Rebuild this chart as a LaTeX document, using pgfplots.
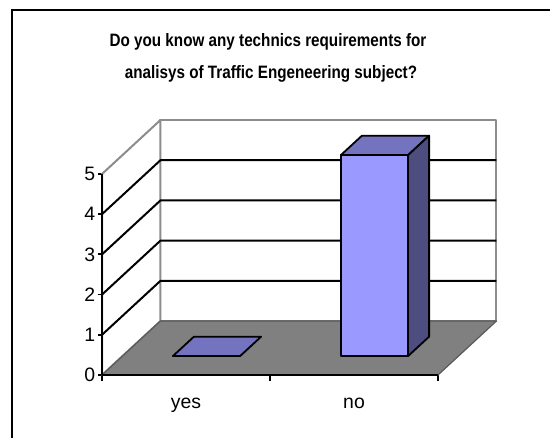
\documentclass[border=0pt]{standalone}
\usepackage{fontspec}
\setmainfont{Liberation Sans}
\newfontfamily\titlefont[FakeStretch=0.85]{Liberation Sans}
\usepackage{pgfplots}
\pgfplotsset{compat=1.18}
\definecolor{floorgray}{HTML}{808080}
\definecolor{wallgray}{HTML}{8C8C8C}
\definecolor{barfront}{HTML}{9999FF}
\definecolor{bartop}{HTML}{7373C0}
\definecolor{barside}{HTML}{4D4D80}

\begin{document}
\begin{tikzpicture}[x=1bp,y=1bp]
\useasboundingbox (0,0) rectangle (550,438);
\draw[line width=2.5bp] (12,-20) rectangle (570,428);
\node[font=\titlefont\bfseries\fontsize{18}{21}\selectfont, anchor=base] at (268,391) {Do you know any technics requirements for};
\node[font=\titlefont\bfseries\fontsize{18}{21}\selectfont, anchor=base] at (271,359) {analisys of Traffic Engeneering subject?};
\begin{axis}[
  at={(102bp,63bp)}, anchor=south west, scale only axis,
  x=168bp, y=40.2bp,
  xmin=-0.5, xmax=1.848, ymin=0, ymax=6.343,
  clip=false,
  axis x line*=bottom, axis y line*=left,
  x axis line style={draw=none}, y axis line style={draw=none},
  ytick={0,1,2,3,4,5},
  xtick={0,1}, xticklabels={yes,no},
  minor xtick={-0.5,0.5,1.5},
  tick align=outside,
  major tick length=4bp,
  minor tick length=6bp,
  major x tick style={draw=none},
  minor x tick style={black, line width=1.8bp},
  major y tick style={black, line width=1.8bp},
  /pgf/number format/assume math mode=true,
  ticklabel style={font=\fontsize{19.5}{22}\selectfont},
  yticklabel style={inner sep=2.5bp},
  xticklabel style={anchor=base, yshift=-30bp},
  no marks,
  line join=round,
]
% back wall
\addplot[fill=white, draw=wallgray, line width=2bp] coordinates {(-0.152,1.343) (1.848,1.343) (1.848,6.343) (-0.152,6.343)} -- cycle;
% left wall
\addplot[fill=white, draw=wallgray, line width=2bp] coordinates {(-0.5,0) (-0.152,1.343) (-0.152,6.343) (-0.5,5)} -- cycle;
% floor
\addplot[fill=floorgray, draw=black!65, line width=1.2bp] coordinates {(-0.5,0) (1.5,0) (1.848,1.343) (-0.152,1.343)} -- cycle;
% gridlines
\addplot[black, line width=2bp] coordinates {(-0.5,1) (-0.152,2.343) (1.848,2.343)};
\addplot[black, line width=2bp] coordinates {(-0.5,2) (-0.152,3.343) (1.848,3.343)};
\addplot[black, line width=2bp] coordinates {(-0.5,3) (-0.152,4.343) (1.848,4.343)};
\addplot[black, line width=2bp] coordinates {(-0.5,4) (-0.152,5.343) (1.848,5.343)};
% axis lines
\addplot[black, line width=2bp] coordinates {(-0.5,5) (-0.5,0) (1.5,0)};
% bar "yes" = 0
\addplot[fill=bartop, draw=black, line width=1.8bp] coordinates {(-0.0782,0.4701) (0.3218,0.4701) (0.4471,0.9535) (0.0471,0.9535)} -- cycle;
% bar "no" = 5
\addplot[fill=barfront, draw=black, line width=1.8bp] coordinates {(0.9218,0.4701) (1.3218,0.4701) (1.3218,5.4701) (0.9218,5.4701)} -- cycle;
\addplot[fill=bartop, draw=black, line width=1.8bp] coordinates {(0.9218,5.4701) (1.3218,5.4701) (1.4471,5.9535) (1.0471,5.9535)} -- cycle;
\addplot[fill=barside, draw=black, line width=1.8bp] coordinates {(1.3218,0.4701) (1.4471,0.9535) (1.4471,5.9535) (1.3218,5.4701)} -- cycle;
\end{axis}
\end{tikzpicture}
\end{document}
